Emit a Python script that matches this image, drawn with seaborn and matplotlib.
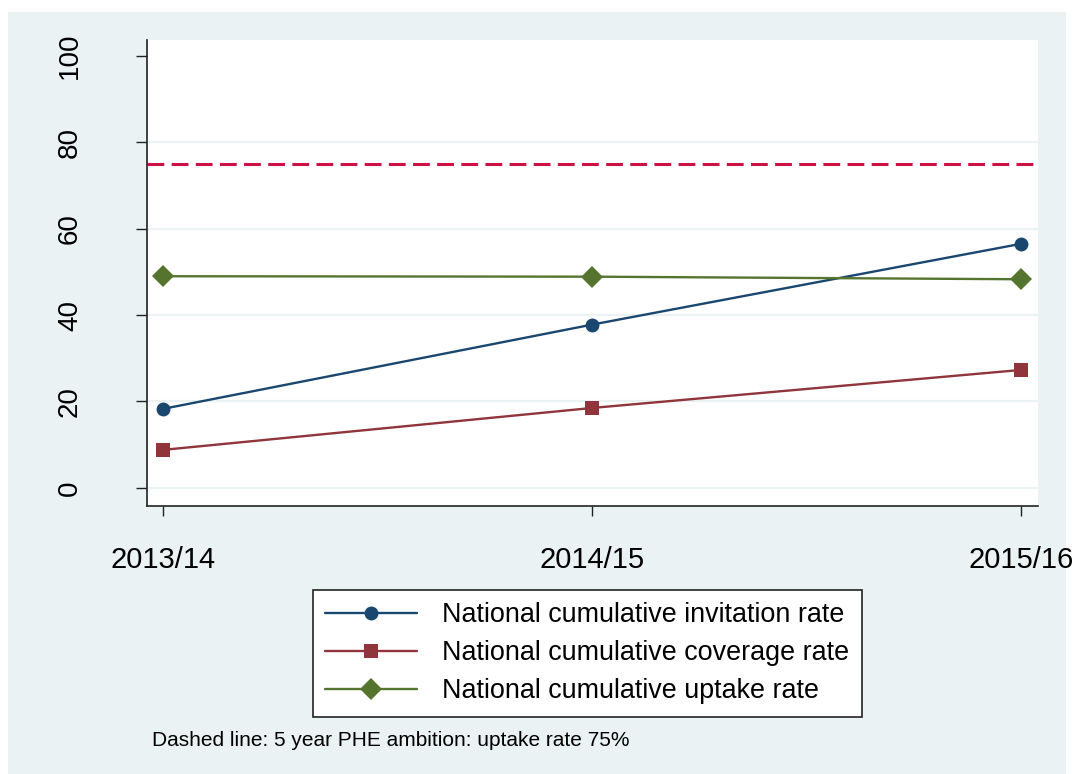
"""Cumulative invitation, coverage and uptake rates against the 5 year PHE ambition."""

import pandas as pd
import matplotlib.pyplot as plt
from matplotlib.patches import Rectangle
import seaborn as sns

# values
years = ["2013/14", "2014/15", "2015/16"]
invitation_rate = [18.3, 37.8, 56.5]
coverage_rate = [8.8, 18.5, 27.3]
uptake_rate = [49.0, 48.9, 48.3]
ambition_rate = 75
series_labels = [
    "National cumulative invitation rate",
    "National cumulative coverage rate",
    "National cumulative uptake rate",
]
y_ticks = [0, 20, 40, 60, 80, 100]
note_text = "Dashed line: 5 year PHE ambition: uptake rate 75%"

BG = "#EAF2F3"
COLORS = ["#1A476F", "#90353B", "#55752F"]
MARKERS = ["o", "s", "D"]
MSIZES = [10, 10, 11]


def make_chart():
    sns.set_style("ticks")
    plt.rcParams["font.family"] = ["Liberation Sans", "DejaVu Sans"]
    plt.rcParams["text.color"] = "black"
    plt.rcParams["xtick.labelcolor"] = "black"
    plt.rcParams["ytick.labelcolor"] = "black"

    W, H = 1073, 774
    fig = plt.figure(figsize=(W / 100, H / 100), dpi=100, facecolor="white")
    # Stata-like outer panel, kept behind the axes
    fig.patches.append(Rectangle((8 / W, 0), (1066 - 8) / W, (774 - 12) / H,
                                 transform=fig.transFigure, facecolor=BG,
                                 edgecolor="none", zorder=-10))

    ax = fig.add_axes([147 / W, 1 - 506 / H, (1038 - 147) / W, (506 - 40) / H])
    ax.set_facecolor("white")

    for vals, label, color, marker, ms in zip(
        [invitation_rate, coverage_rate, uptake_rate], series_labels, COLORS, MARKERS, MSIZES
    ):
        df = pd.DataFrame({"year": years, "rate": vals})
        sns.lineplot(data=df, x="year", y="rate", ax=ax, color=color, label=label,
                     marker=marker, markersize=ms, markeredgewidth=0, linewidth=1.7,
                     zorder=3)

    ax.axhline(ambition_rate, color="#CC1144", linewidth=2.2, dashes=(5.5, 2.4), zorder=2)

    for t in y_ticks[:-1]:
        ax.axhline(t, color=BG, linewidth=1.6, zorder=1)

    ax.set_xlim(-0.038, 2.04)
    ax.set_ylim(-4.2, 103.7)
    ax.set_yticks(y_ticks)
    ax.set_xlabel("")
    ax.set_ylabel("")

    for side in ["top", "right"]:
        ax.spines[side].set_visible(False)
    for side in ["left", "bottom"]:
        ax.spines[side].set_color("#222222")
        ax.spines[side].set_linewidth(1.2)

    ax.tick_params(axis="y", length=8, width=1.0, color="#222222", pad=38, labelsize=20)
    ax.tick_params(axis="x", length=7, width=1.0, color="#222222", pad=22, labelsize=21)
    plt.setp(ax.get_yticklabels(), rotation=90, va="center")

    leg = ax.legend(loc="upper left", bbox_to_anchor=(313 / W, 1 - 590 / H),
                    bbox_transform=fig.transFigure, fontsize=19.4, frameon=True,
                    fancybox=False, edgecolor="#222222", facecolor="white",
                    handlelength=3.4, handletextpad=0.95, labelspacing=0.45,
                    borderpad=0.45, borderaxespad=0)
    leg.get_frame().set_linewidth(1.2)
    leg.get_frame().set_alpha(1)

    fig.text(152 / W, 1 - 741 / H, note_text, fontsize=15, va="center", ha="left")

    fig.savefig("out.png", dpi=100, facecolor="white")
    plt.close(fig)


if __name__ == "__main__":
    make_chart()
